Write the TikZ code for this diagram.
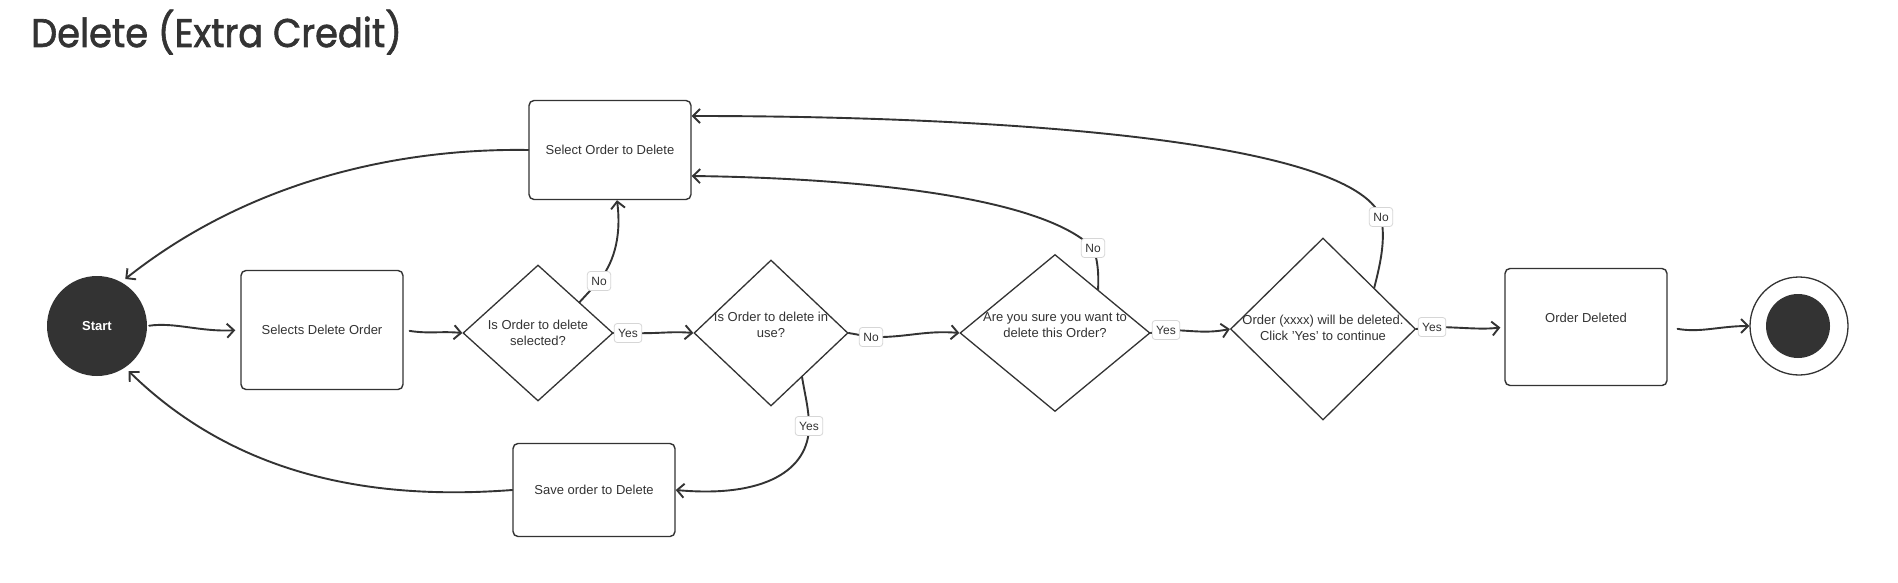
\documentclass[tikz,border=0pt]{standalone}
\usepackage{fontspec}
\setmainfont{Liberation Sans}
\newfontfamily\titlefont{Poppins}[FakeBold=1.6]
\usetikzlibrary{arrows.meta,shapes.geometric,calc}
\definecolor{ink}{HTML}{333333}
\definecolor{lblborder}{HTML}{D6D6D6}
\begin{document}
\begin{tikzpicture}[x=1pt,y=-1pt,
 box/.style={draw=ink, line width=1.4pt, rounded corners=5pt, minimum width=162pt, inner sep=0pt, font=\fontsize{13}{15.5}\selectfont, text=ink, align=center},
 dia/.style={draw=ink, line width=1.3pt, shape=diamond, inner sep=0pt},
 txt/.style={font=\fontsize{13}{15.5}\selectfont, text=ink, align=center, inner sep=0pt},
 conn/.style={draw=ink, line width=1.9pt, line cap=round, -{Straight Barb[length=7pt,width=14pt]}},
 lbl/.style={draw=lblborder, fill=white, rounded corners=3pt, line width=0.8pt, font=\fontsize{12}{14}\selectfont, text=ink, inner xsep=4pt, inner ysep=0pt, minimum height=19pt}
]
\fill[white] (0,0) rectangle (1898,583);
\useasboundingbox (0,0) rectangle (1898,583);

% title
\node[anchor=base west, font=\titlefont\fontsize{40}{48}\selectfont, text=ink, inner sep=0pt] (title) at (31,47) {\scalebox{0.92}[1]{Delete (Extra Credit)}};

% start / end
\node[circle, fill=ink, minimum size=100pt, inner sep=0pt, text=white, font=\bfseries\fontsize{13}{15}\selectfont] (start) at (97,326) {Start};
\node[circle, draw=ink, line width=1.3pt, minimum size=98pt, inner sep=0pt] (endo) at (1799,326) {};
\node[circle, fill=ink, minimum size=64pt, inner sep=0pt] (endi) at (1798,326) {};

% boxes
\node[box, minimum height=119pt] (sel) at (322,330) {Selects Delete Order};
\node[box, minimum height=99pt] (sot) at (610,150) {Select Order to Delete};
\node[box, minimum height=93pt] (sav) at (594,490) {Save order to Delete};
\node[box, minimum height=117pt] (odl) at (1586,327) {};
\node[txt] (odlt) at (1586,318) {Order Deleted};

% diamonds
\node[dia, minimum width=150pt, minimum height=136pt] (d1) at (538,333) {};
\node[txt] (d1t) at (538,333) {Is Order to delete\\selected?};
\node[dia, minimum width=154pt, minimum height=146pt] (d2) at (771,333) {};
\node[txt] (d2t) at (771,325) {Is Order to delete in\\use?};
\node[dia, minimum width=190pt, minimum height=157pt] (d3) at (1055,333) {};
\node[txt] (d3t) at (1055,325) {Are you sure you want to\\delete this Order?};
\node[dia, minimum width=185pt, minimum height=182pt] (d4) at (1323,329) {};
\node[txt] (d4t) at (1323,328) {Order (xxxx) will be deleted.\\Click 'Yes' to continue};

% label spots
\coordinate (yes1c) at (628,333);
\coordinate (no1c) at (599,281);
\coordinate (no2c) at (871,337);
\coordinate (yes2c) at (809,426);
\coordinate (yes3c) at (1166,330);
\coordinate (no3c) at (1093,248);
\coordinate (yes4c) at (1432,327);
\coordinate (no4c) at (1381,217);

% connectors
\draw[conn, shorten <=2pt, shorten >=5pt] (start.east) .. controls (175,322) and (200,332) .. (sel.west);
\draw[conn, shorten <=6pt] (sel.east) .. controls (430,334) and (440,331) .. (d1.west);
\draw[conn] (d1.east) -- (yes1c) .. controls (660,334) and (670,331) .. (d2.west);
\draw[conn] ($(d1.north)!0.55!(d1.east)$) -- (no1c) .. controls (612,265) and (622,240) .. ([xshift=7pt]sot.south);
\draw[conn] (d2.east) -- (no2c) .. controls (905,338) and (925,330) .. (d3.west);
\draw[conn] ($(d2.east)!0.6!(d2.south)$) .. controls (805,395) and (809,410) .. (yes2c) .. controls (809,470) and (765,498) .. (sav.east);
\draw[conn] (d3.east) -- (yes3c) .. controls (1190,330) and (1205,334) .. (d4.west);
\draw[conn] ($(d3.north)!0.45!(d3.east)$) .. controls (1099,270) and (1097,258) .. (no3c) .. controls (1040,195) and (850,178) .. ($(sot.east)+(0,26)$);
\draw[conn] ($(d4.north)!0.55!(d4.east)$) .. controls (1380,265) and (1386,240) .. (no4c) .. controls (1350,140) and (1000,116) .. ($(sot.east)+(0,-34)$);
\draw[conn, shorten >=4pt] (d4.east) -- (yes4c) .. controls (1460,327) and (1480,330) .. (odl.west);
\draw[conn, shorten <=10pt] (odl.east) .. controls (1700,333) and (1720,326) .. (endo.west);
\draw[conn, shorten >=5pt] (sot.west) .. controls (400,148) and (250,180) .. (start.61);
\draw[conn, shorten >=5pt] (sav.west) .. controls (380,500) and (240,480) .. (start.-56);

% labels
\node[lbl] (yes1) at (yes1c) {Yes};
\node[lbl] (no1) at (no1c) {No};
\node[lbl] (no2) at (no2c) {No};
\node[lbl] (yes2) at (yes2c) {Yes};
\node[lbl] (yes3) at (yes3c) {Yes};
\node[lbl] (no3) at (no3c) {No};
\node[lbl] (yes4) at (yes4c) {Yes};
\node[lbl] (no4) at (no4c) {No};
\end{tikzpicture}
\end{document}
